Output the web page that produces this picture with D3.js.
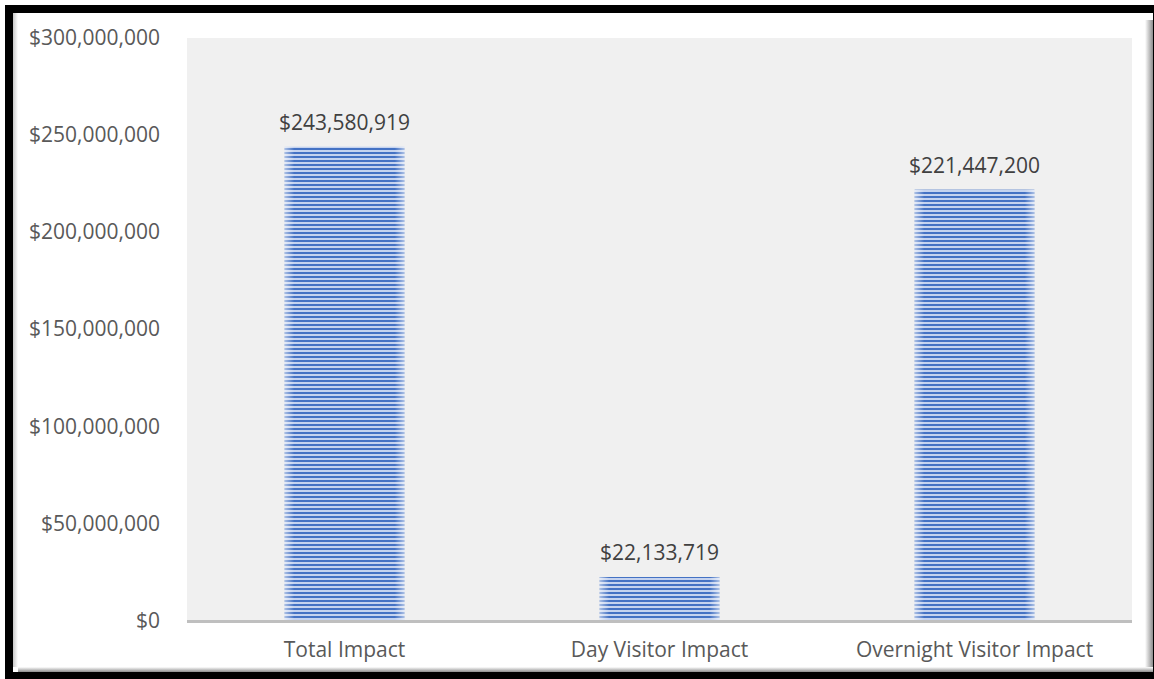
<!DOCTYPE html>
<html><head><meta charset="utf-8">
<script src="https://cdn.jsdelivr.net/npm/d3@7"></script>
<style>html,body{margin:0;padding:0;background:#fff;}svg{display:block;}</style>
</head><body>
<svg id="chart" width="1154" height="679"></svg>
<script>
const categories = ["Total Impact", "Day Visitor Impact", "Overnight Visitor Impact"];
const values = [243580919, 22133719, 221447200];
const yTicks = [0, 50000000, 100000000, 150000000, 200000000, 250000000, 300000000];

const svg = d3.select("#chart");
const W = 1154, H = 679;
const FONT = "'Open Sans', 'Noto Sans', sans-serif";
const FS = 21;

const defs = svg.append("defs");
const pat = defs.append("pattern").attr("id","stripes").attr("patternUnits","userSpaceOnUse")
  .attr("width",8).attr("height",4);
pat.append("rect").attr("width",8).attr("height",4).attr("fill","#c5d3ef");
pat.append("rect").attr("y",0).attr("width",8).attr("height",2).attr("fill","#4472c4");
const edge = defs.append("linearGradient").attr("id","edge").attr("x1","0").attr("x2","1");
edge.append("stop").attr("offset","0").attr("stop-color","#fff").attr("stop-opacity",0.55);
edge.append("stop").attr("offset","0.08").attr("stop-color","#fff").attr("stop-opacity",0);
edge.append("stop").attr("offset","0.92").attr("stop-color","#fff").attr("stop-opacity",0);
edge.append("stop").attr("offset","1").attr("stop-color","#fff").attr("stop-opacity",0.55);
const shR = defs.append("linearGradient").attr("id","shR").attr("x1","0").attr("x2","1");
shR.append("stop").attr("offset","0").attr("stop-color","#ffffff");
shR.append("stop").attr("offset","1").attr("stop-color","#8c8c8c");
const shB = defs.append("linearGradient").attr("id","shB").attr("x1","0").attr("x2","0").attr("y1","0").attr("y2","1");
shB.append("stop").attr("offset","0").attr("stop-color","#ffffff");
shB.append("stop").attr("offset","1").attr("stop-color","#8c8c8c");
const shL = defs.append("linearGradient").attr("id","shL").attr("x1","0").attr("x2","1");
shL.append("stop").attr("offset","0").attr("stop-color","#c8c8c8");
shL.append("stop").attr("offset","1").attr("stop-color","#ffffff");

// frame
svg.append("rect").attr("x",0).attr("y",0).attr("width",W).attr("height",H).attr("fill","#fff");
svg.append("rect").attr("x",5).attr("y",5).attr("width",W).attr("height",H).attr("fill","#000");
svg.append("rect").attr("x",13).attr("y",13).attr("width",1140).attr("height",659).attr("fill","#fff");
svg.append("rect").attr("x",13).attr("y",13).attr("width",5).attr("height",654).attr("fill","url(#shL)");
svg.append("rect").attr("x",1145).attr("y",20).attr("width",8).attr("height",652).attr("fill","url(#shR)");
svg.append("rect").attr("x",18).attr("y",667).attr("width",1135).attr("height",5).attr("fill","url(#shB)");

const plot = {left:187, right:1132, top:37, bottom:620};
svg.append("rect").attr("x",plot.left).attr("y",38).attr("width",plot.right-plot.left)
  .attr("height",plot.bottom-38).attr("fill","#f0f0f0");

const x = d3.scaleBand().domain(categories).range([plot.left, plot.right]).paddingInner(0.62).paddingOuter(0.31);
const y = d3.scaleLinear().domain([0, 300000000]).range([plot.bottom, plot.top]);
const fmt = v => "$" + d3.format(",")(v);

svg.selectAll("rect.bar").data(values).join("rect").attr("class","bar")
  .attr("x",(d,i)=>x(categories[i])).attr("width",x.bandwidth())
  .attr("y",d=>y(d)).attr("height",d=>plot.bottom-y(d)).attr("fill","url(#stripes)");
svg.selectAll("rect.edge").data(values).join("rect").attr("class","edge")
  .attr("x",(d,i)=>x(categories[i])).attr("width",x.bandwidth())
  .attr("y",d=>y(d)).attr("height",d=>plot.bottom-y(d)).attr("fill","url(#edge)");

// baseline
svg.append("line").attr("x1",plot.left).attr("x2",plot.right).attr("y1",plot.bottom+1.5).attr("y2",plot.bottom+1.5)
  .attr("stroke","#bfbfbf").attr("stroke-width",3);

// y axis
const yAxis = d3.axisLeft(y).tickValues(yTicks).tickFormat(fmt).tickSize(0).tickPadding(0);
const gy = svg.append("g").attr("transform","translate(160,0)").call(yAxis);
gy.select(".domain").remove();
gy.selectAll("text").attr("font-family",FONT).attr("font-size",FS).attr("fill","#595959").attr("dy","0.35em");

// x axis
const xAxis = d3.axisBottom(x).tickSize(0).tickPadding(0);
const gx = svg.append("g").attr("transform",`translate(0,${plot.bottom})`).call(xAxis);
gx.select(".domain").remove();
gx.selectAll("text").attr("font-family",FONT).attr("font-size",FS).attr("fill","#595959").attr("y",30).attr("dy","0.35em");

// data labels
svg.selectAll("text.lbl").data(values).join("text").attr("class","lbl")
  .attr("x",(d,i)=>x(categories[i])+x.bandwidth()/2).attr("y",d=>y(d)-24).attr("dy","0.35em")
  .attr("text-anchor","middle").attr("font-family",FONT).attr("font-size",FS).attr("fill","#404040")
  .text(fmt);
</script>
</body></html>
